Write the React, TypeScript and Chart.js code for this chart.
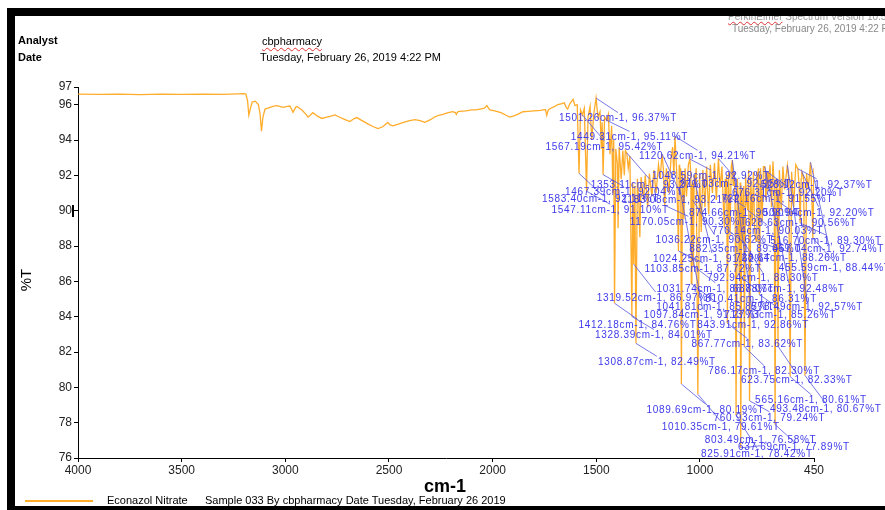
import React, { useEffect, useRef } from "react";
import { Chart, registerables } from "chart.js";

Chart.register(...registerables);

// ---- DATA -----------------------------------------------------------------
// [wavenumber cm-1, %T] — high-wavenumber part of the spectrum
const spectrumHighRange: [number, number][] = [
  [4000, 96.6], [3900, 96.58], [3800, 96.6], [3700, 96.57], [3600, 96.6], [3500, 96.58],
  [3400, 96.6], [3300, 96.58], [3200, 96.62], [3190, 96.6], [3182, 96.2], [3176, 95.4],
  [3168, 95.8], [3160, 96.15], [3145, 96.2], [3130, 96.0], [3122, 95.5], [3115, 94.5],
  [3108, 95.3], [3098, 95.75], [3084, 95.8], [3060, 95.9], [3040, 95.95], [3010, 95.85],
  [2990, 95.9], [2978, 95.92], [2963, 95.57], [2950, 95.85], [2944, 95.9], [2920, 95.7],
  [2900, 95.45], [2891, 95.3], [2880, 95.4], [2867, 95.55], [2845, 95.35], [2824, 95.22],
  [2800, 95.3], [2780, 95.35], [2761, 95.42], [2740, 95.3], [2720, 95.2], [2700, 95.1],
  [2688, 95.05], [2670, 95.2], [2655, 95.27], [2630, 95.1], [2600, 94.9], [2575, 94.75],
  [2553, 94.65], [2530, 94.75], [2515, 94.9], [2505, 95.0], [2495, 94.85], [2481, 94.8],
  [2455, 94.9], [2430, 95.0], [2400, 95.1], [2375, 95.15], [2350, 95.1], [2327, 95.0],
  [2300, 95.15], [2280, 95.3], [2260, 95.4], [2240, 95.45], [2215, 95.55], [2192, 95.6],
  [2180, 95.55], [2175, 95.45], [2168, 95.6], [2158, 95.62], [2130, 95.65], [2100, 95.7],
  [2080, 95.7], [2060, 95.75], [2040, 95.8], [2028, 95.95], [2020, 95.8], [2013, 95.7],
  [1990, 95.65], [1960, 95.55], [1935, 95.4], [1917, 95.3], [1900, 95.35], [1880, 95.45],
  [1854, 95.6], [1830, 95.62], [1800, 95.65], [1770, 95.68], [1758, 95.7], [1745, 95.72],
  [1739, 95.4], [1732, 95.7], [1720, 95.8], [1700, 95.9], [1686, 96.0], [1670, 96.05],
  [1655, 96.1],
];

// [wavenumber cm-1, %T] — fingerprint region
const spectrumFingerprint: [number, number][] = [
  [1645, 95.85], [1638, 95.75], [1628, 96.05], [1612, 96.3], [1603, 95.95], [1592, 96.0],
  [1583.4, 92.11], [1576, 95.7], [1567.19, 95.42], [1558, 95.8], [1547.11, 91.1], [1540, 95.3],
  [1530, 95.9], [1522, 94.0], [1512, 95.5], [1501.26, 96.37], [1492, 95.3], [1482, 95.6],
  [1476, 93.5], [1472, 95.0], [1467.39, 92.04], [1460, 95.3], [1449.31, 95.11], [1442, 95.45],
  [1434, 93.2], [1426, 94.8], [1420, 91.0], [1416, 94.0], [1412.18, 84.76], [1406, 93.5],
  [1398, 92.6], [1395, 89.0], [1390, 93.6], [1380, 91.8], [1372, 93.4], [1365, 92.0],
  [1360, 93.4], [1353.11, 93.27], [1346, 92.4], [1338, 93.1], [1328.39, 84.01], [1324, 91.6],
  [1319.52, 86.97], [1314, 91.4], [1308.87, 82.49], [1302, 91.8], [1295, 90.5], [1290, 88.5],
  [1284, 91.9], [1272, 90.6], [1264, 92.0], [1252, 90.2], [1244, 92.1], [1232, 90.8],
  [1222, 92.3], [1212, 91.0], [1200, 92.6], [1192, 91.8], [1183.08, 93.21], [1176, 92.3],
  [1170.05, 90.3], [1162, 92.4], [1150, 91.0], [1140, 92.9], [1132, 93.6], [1126, 92.0],
  [1120.62, 94.21], [1112, 92.1], [1103.85, 87.72], [1100, 92.6], [1097.84, 91.27], [1093, 92.4],
  [1089.69, 80.19], [1084, 92.2], [1078, 89.5], [1072, 92.4], [1065, 90.8], [1056, 92.6],
  [1048.59, 92.92], [1044, 92.0], [1041.81, 85.87], [1039, 91.5], [1036.22, 90.62], [1034, 91.6],
  [1031.74, 86.88], [1028, 92.0], [1024.25, 91.62], [1018, 92.4], [1010.35, 79.61], [1002, 92.1],
  [994, 88.8], [986, 92.3], [976, 90.2], [968, 92.5], [958, 89.8], [950, 92.6],
  [940, 91.0], [930, 92.7], [921, 90.6], [911.03, 92.95], [903, 91.3], [894, 92.5],
  [888, 90.5], [882.35, 89.05], [878, 91.8], [874.66, 90.9], [871, 92.0], [867.77, 83.62],
  [862, 92.2], [855, 88.6], [849, 92.5], [843.91, 92.86], [840, 91.4], [835, 92.2],
  [830, 90.0], [825.91, 78.42], [820, 91.8], [815, 90.4], [810.41, 86.31], [806, 91.6],
  [803.49, 76.58], [798, 91.2], [792.94, 88.3], [789, 91.4], [786.17, 82.3], [780, 92.0],
  [775, 90.5], [770.14, 90.03], [765, 92.3], [760.93, 79.24], [755, 91.9], [748, 89.2],
  [742, 92.2], [736, 88.8], [728.84, 88.26], [725, 92.2], [722.16, 91.55], [718, 92.4],
  [713.73, 85.26], [708, 92.4], [700, 89.4], [694, 92.5], [687.07, 92.48], [682, 90.6],
  [676.31, 92.2], [672, 91.1], [662, 92.6], [655, 90.2], [648, 92.8], [642, 91.5],
  [637.69, 77.89], [633, 91.8], [628.63, 90.56], [626, 91.2], [623.75, 82.33], [617, 92.3],
  [608, 90.0], [600, 92.5], [592, 91.2], [578.49, 92.57], [572, 91.8], [565.16, 80.61],
  [558, 92.2], [548, 90.2], [538, 92.6], [528.12, 92.37], [522, 91.5], [516.7, 89.3],
  [512, 91.8], [508.94, 92.2], [500, 91.9], [493.48, 80.67], [486, 92.1], [478, 91.2],
  [467.04, 92.74], [462, 91.5], [455.59, 88.44], [450, 92.4],
];

// labelled peaks [wavenumber cm-1, %T]
const peakBands: [number, number][] = [
  [1501.26, 96.37], [1449.31, 95.11], [1567.19, 95.42], [1120.62, 94.21], [1048.59, 92.92],
  [1353.11, 93.27], [911.03, 92.95], [528.12, 92.37], [1467.39, 92.04], [676.31, 92.2],
  [1583.4, 92.11], [1183.08, 93.21], [722.16, 91.55], [1547.11, 91.1], [874.66, 90.9],
  [508.94, 92.2], [1170.05, 90.3], [628.63, 90.56], [770.14, 90.03], [1036.22, 90.62],
  [516.7, 89.3], [882.35, 89.05], [467.04, 92.74], [1024.25, 91.62], [728.84, 88.26],
  [1103.85, 87.72], [455.59, 88.44], [792.94, 88.3], [1031.74, 86.88], [687.07, 92.48],
  [1319.52, 86.97], [810.41, 86.31], [1041.81, 85.87], [578.49, 92.57], [1097.84, 91.27],
  [713.73, 85.26], [1412.18, 84.76], [843.91, 92.86], [1328.39, 84.01], [867.77, 83.62],
  [1308.87, 82.49], [786.17, 82.3], [623.75, 82.33], [565.16, 80.61], [1089.69, 80.19],
  [493.48, 80.67], [760.93, 79.24], [1010.35, 79.61], [803.49, 76.58], [637.69, 77.89],
  [825.91, 78.42],
];

const xTickValues = [4000, 3500, 3000, 2500, 2000, 1500, 1000, 450];
const yTickValues = [76, 78, 80, 82, 84, 86, 88, 90, 92, 94, 96, 97];

// ---- LAYOUT (label text offset from its peak, px) -------------------------
const labelOffsets: [number, number][] = [
  [-37, 20.5], [-36, 17], [-37, 32], [-36, 20], [-38, 17],
  [-36, 32], [-38, 26], [-37, 16], [-38, 18], [-35, 21],
  [-37, 26], [-40, 46], [-36, 16], [-35, 19], [-37, 18],
  [-39, 41], [-35, 17], [-32, 22], [-36, 21], [-37, 41],
  [-30, 18], [-35, 22], [-38, 87], [-42, 77], [-21, 17],
  [-34, 18], [-34, 30], [-36, 38], [-37, 23], [-32, 122],
  [-37, 34], [-34, 23], [-35, 24], [-36, 142], [-36, 127],
  [-35, 21], [-36, 22], [-35, 165], [-37, 19], [-36, 21],
  [-38, 19], [-36, 25], [-37, 34], [-35, 24], [-35, 26],
  [-35, 34], [-36, 17], [-36, 33], [-36, -8], [-37, 23],
  [-35, 39],
];

const NARROW = "'Liberation Sans Narrow', 'Arial Narrow', 'Liberation Sans', Arial, sans-serif";
const SANS = "'Liberation Sans', Arial, sans-serif";
const ORANGE = "rgba(255,163,20,0.9)";

const peakLabelPlugin = {
  id: "peakLabels",
  afterDatasetsDraw(chart: any) {
    const ctx = chart.ctx as CanvasRenderingContext2D;
    const xs = chart.scales.x;
    const ys = chart.scales.y;
    ctx.save();
    ctx.font = `10px ${SANS}`;
    (ctx as any).letterSpacing = "0.7px";
    ctx.textBaseline = "middle";
    const items = peakBands.map(([w, v], i) => {
      const [dx, dy] = labelOffsets[i];
      const px = xs.getPixelForValue(w);
      const py = ys.getPixelForValue(v);
      const text = `${w.toFixed(2)}cm-1, ${v.toFixed(2)}%T`;
      const tw = ctx.measureText(text).width;
      return { px, py, lx: px + dx, ly: py + dy, text, tw, dy };
    });
    ctx.strokeStyle = "rgba(85,85,225,0.8)";
    ctx.lineWidth = 1;
    items.forEach((it) => {
      ctx.beginPath();
      ctx.moveTo(it.px, it.py);
      ctx.lineTo(it.lx + it.tw / 2, it.ly + (it.dy > 0 ? -6 : 6));
      ctx.stroke();
    });
    ctx.fillStyle = "#3f3aea";
    items.forEach((it) => {
      ctx.fillText(it.text, it.lx, it.ly);
    });
    ctx.restore();
  },
};

export default function App() {
  const canvasRef = useRef<HTMLCanvasElement | null>(null);

  useEffect(() => {
    const canvas = canvasRef.current;
    if (!canvas) return;
    const points = [...spectrumHighRange, ...spectrumFingerprint].map(([x, y]) => ({ x, y }));
    const chart = new Chart(canvas, {
      type: "line",
      data: {
        datasets: [
          {
            label: "Econazol Nitrate",
            data: points,
            borderColor: ORANGE,
            borderWidth: 1.3,
            pointRadius: 0,
            tension: 0,
            fill: false,
          },
        ],
      },
      options: {
        animation: false,
        responsive: false,
        events: [],
        layout: { padding: { left: 0, right: 71, top: 87, bottom: 32 } },
        plugins: {
          legend: { display: false },
          tooltip: { enabled: false },
          title: { display: false },
        },
        scales: {
          x: {
            type: "linear",
            reverse: true,
            min: 450,
            max: 4000,
            afterBuildTicks: (scale: any) => {
              scale.ticks = xTickValues.map((value) => ({ value }));
            },
            afterFit: (scale: any) => {
              scale.height = 20;
            },
            ticks: {
              color: "#222",
              font: { size: 12, family: SANS },
              padding: 1,
              maxRotation: 0,
              autoSkip: false,
              callback: (value: any) => String(value),
            },
            grid: { display: true, drawOnChartArea: false, drawTicks: true, tickLength: 4, color: "#000" },
            border: { display: true, color: "#000", width: 1 },
          },
          y: {
            type: "linear",
            min: 76,
            max: 97,
            afterBuildTicks: (scale: any) => {
              scale.ticks = yTickValues.map((value) => ({ value }));
            },
            afterFit: (scale: any) => {
              scale.width = 78;
            },
            ticks: {
              color: "#222",
              font: { size: 12, family: SANS },
              padding: 2,
              autoSkip: false,
              callback: (value: any) => String(value),
            },
            grid: { display: true, drawOnChartArea: false, drawTicks: true, tickLength: 4, color: "#000" },
            border: { display: true, color: "#000", width: 1 },
          },
        },
      },
      plugins: [peakLabelPlugin],
    });
    return () => chart.destroy();
  }, []);

  const abs = (left: number, top: number, extra: React.CSSProperties = {}): React.CSSProperties => ({
    position: "absolute",
    left,
    top,
    lineHeight: 1,
    whiteSpace: "nowrap",
    ...extra,
  });
  const wavy: React.CSSProperties = {
    textDecoration: "underline wavy #e03030",
    textDecorationThickness: "1px",
    textUnderlineOffset: "2px",
  };

  return (
    <div
      style={{
        position: "fixed",
        left: 0,
        top: 0,
        width: 885,
        height: 510,
        background: "#fff",
        overflow: "hidden",
        fontFamily: NARROW,
        color: "#000",
      }}
    >
      <canvas ref={canvasRef} width={885} height={510} style={{ position: "absolute", left: 0, top: 0 }} />

      {/* header */}
      <div style={abs(18, 35, { fontSize: 11, fontWeight: 700 })}>Analyst</div>
      <div style={abs(18, 52, { fontSize: 11, fontWeight: 700 })}>Date</div>
      <div style={abs(262, 36, { fontSize: 11 })}>
        <span style={wavy}>cbpharmacy</span>
      </div>
      <div style={abs(260, 52, { fontSize: 11 })}>Tuesday, February 26, 2019 4:22 PM</div>
      <div style={abs(728, 12, { fontSize: 10, color: "#999" })}>
        <span style={{ ...wavy, textUnderlineOffset: "1px" }}>PerkinElmer</span> Spectrum Version 10.5.3
      </div>
      <div style={abs(732, 24, { fontSize: 10, color: "#888" })}>Tuesday, February 26, 2019 4:22 PM</div>

      {/* axis titles */}
      <div
        style={abs(25, 280, {
          fontSize: 15,
          fontFamily: SANS,
          transform: "translate(-50%, -50%) rotate(-90deg)",
        })}
      >
        %T
      </div>
      <div
        style={abs(445, 486, {
          fontSize: 18,
          fontWeight: 700,
          fontFamily: SANS,
          transform: "translate(-50%, -50%)",
        })}
      >
        cm-1
      </div>

      {/* stray cursor next to the 90 tick */}
      <div style={{ position: "absolute", left: 72, top: 205, width: 2, height: 12, background: "#000" }} />

      {/* legend */}
      <div style={{ position: "absolute", left: 25, top: 500, width: 68, height: 2, background: ORANGE }} />
      <div style={abs(107, 495, { fontSize: 11 })}>
        <span style={wavy}>Econazol</span> Nitrate
      </div>
      <div style={abs(205, 495, { fontSize: 11 })}>
        Sample 033 By <span style={wavy}>cbpharmacy</span> Date Tuesday, February 26 2019
      </div>

      {/* black frame bars */}
      <div style={{ position: "absolute", left: 7, top: 8, width: 878, height: 8, background: "#000" }} />
      <div style={{ position: "absolute", left: 7, top: 8, width: 8, height: 502, background: "#000" }} />
      <div style={{ position: "absolute", left: 7, top: 506, width: 878, height: 4, background: "#000" }} />
    </div>
  );
}
